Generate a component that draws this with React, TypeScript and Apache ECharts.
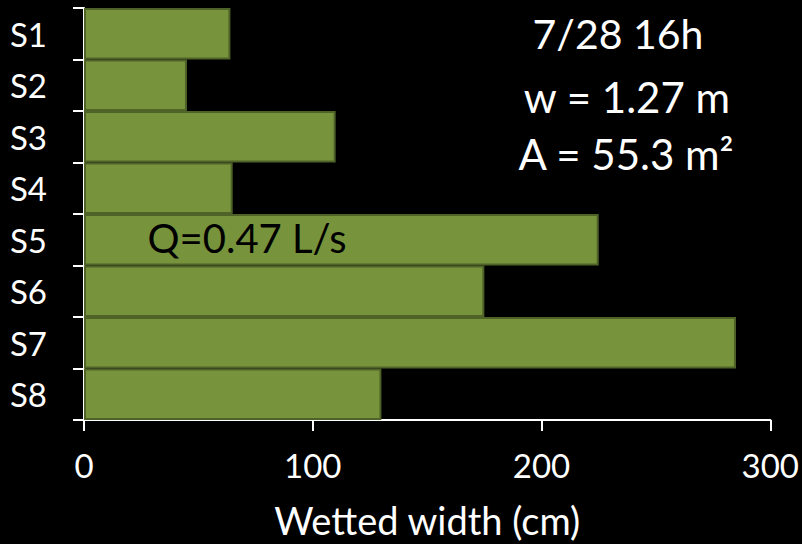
import React, { useEffect, useRef } from "react";
import * as echarts from "echarts";

const categories = ["S1", "S2", "S3", "S4", "S5", "S6", "S7", "S8"];
const wettedWidth = [64, 45, 110, 65, 225, 175, 285, 130];
const xTicks = { min: 0, max: 300, interval: 100 };
const annotations = ["7/28 16h", "w = 1.27 m", "A = 55.3 m²"];
const flowLabel = "Q=0.47 L/s";

const FONT = "Lato, 'Open Sans', sans-serif";

export default function App() {
  const ref = useRef<HTMLDivElement>(null);
  useEffect(() => {
    if (!ref.current) return;
    const chart = echarts.init(ref.current, undefined, { renderer: "svg" });
    chart.setOption({
      animation: false,
      backgroundColor: "#000000",
      grid: { left: 84, top: 8, right: 31, bottom: 124, containLabel: false },
      xAxis: {
        type: "value",
        min: xTicks.min,
        max: xTicks.max,
        interval: xTicks.interval,
        name: "Wetted width (cm)",
        nameLocation: "middle",
        nameGap: 81,
        nameTextStyle: { color: "#ffffff", fontSize: 38, fontFamily: FONT },
        axisLine: { show: true, lineStyle: { color: "#ffffff", width: 2 } },
        axisTick: { show: true, length: 11, lineStyle: { color: "#ffffff", width: 2 } },
        axisLabel: { color: "#ffffff", fontSize: 33, fontFamily: FONT, margin: 28 },
        splitLine: { show: false },
      },
      yAxis: {
        type: "category",
        data: categories,
        inverse: true,
        axisLine: { show: true, lineStyle: { color: "#ffffff", width: 2 } },
        axisTick: { show: true, length: 11, alignWithLabel: false, lineStyle: { color: "#ffffff", width: 2 } },
        axisLabel: { color: "#ffffff", fontSize: 33, fontFamily: FONT, margin: 37, align: "right" },
      },
      series: [
        {
          type: "bar",
          data: wettedWidth,
          barWidth: "100%",
          barCategoryGap: 0,
          itemStyle: { color: "#77933C", borderColor: "#4F6228", borderWidth: 2 },
        },
      ],
      graphic: [
        {
          type: "text",
          x: 618,
          y: 33,
          z: 100,
          style: { text: annotations[0], fill: "#ffffff", fontSize: 41, fontFamily: FONT, align: "center", verticalAlign: "middle" },
        },
        {
          type: "text",
          x: 627,
          y: 97,
          z: 100,
          style: { text: annotations[1], fill: "#ffffff", fontSize: 42, fontFamily: FONT, align: "center", verticalAlign: "middle" },
        },
        {
          type: "text",
          x: 626,
          y: 154,
          z: 100,
          style: { text: annotations[2], fill: "#ffffff", fontSize: 42, fontFamily: FONT, align: "center", verticalAlign: "middle" },
        },
        {
          type: "text",
          x: 247,
          y: 238,
          z: 100,
          style: { text: flowLabel, fill: "#000000", fontSize: 40, fontFamily: FONT, align: "center", verticalAlign: "middle" },
        },
      ],
    });
    return () => chart.dispose();
  }, []);
  return <div ref={ref} style={{ width: 802, height: 544, position: "absolute", left: 0, top: 0 }} />;
}
